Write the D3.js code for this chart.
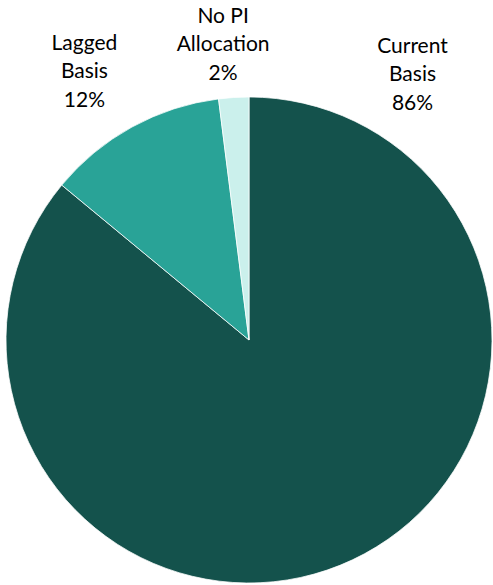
<!DOCTYPE html>
<html>
<head>
<meta charset="utf-8">
<script src="https://cdn.jsdelivr.net/npm/d3@7"></script>
<style>
  body { margin: 0; background: #fff; }
  text { font-family: Lato, "Open Sans", sans-serif; fill: #000; }
</style>
</head>
<body>
<div id="chart"></div>
<script>
// data
var categories = ['Current Basis', 'Lagged Basis', 'No PI Allocation'];
var values = [86, 12, 2];
var labelLines = [['Current', 'Basis'], ['Lagged', 'Basis'], ['No PI', 'Allocation']];
var colors = ['#14524c', '#29a397', '#cbf0ec'];

var width = 493, height = 585;
var cx = 249, cy = 340, radius = 243;

var svg = d3.select('#chart')
  .append('svg')
  .attr('width', width)
  .attr('height', height);

var g = svg.append('g')
  .attr('transform', 'translate(' + cx + ',' + cy + ')');

var pie = d3.pie().sort(null).value(function(d) { return d; });
var arcs = pie(values);

var arc = d3.arc().innerRadius(0).outerRadius(radius);

g.selectAll('path')
  .data(arcs)
  .enter()
  .append('path')
  .attr('d', arc)
  .attr('fill', function(d, i) { return colors[i]; })
  .attr('stroke', '#fff')
  .attr('stroke-width', 0.75);

// label placement (Excel "best fit" puts them above the pie)
var labelPos = [
  {angle: 31.6, r: 312},
  {angle: -31.5, r: 315},
  {angle: -5, r: 297}
];
var lineH = 28.5;

var labels = g.selectAll('text.lbl')
  .data(arcs)
  .enter()
  .append('text')
  .attr('class', 'lbl')
  .attr('text-anchor', 'middle')
  .style('font-size', '21px')
  .attr('transform', function(d, i) {
    var a = labelPos[i].angle * Math.PI / 180;
    var x = labelPos[i].r * Math.sin(a);
    var y = -labelPos[i].r * Math.cos(a);
    return 'translate(' + x + ',' + y + ')';
  });

labels.each(function(d, i) {
  var t = d3.select(this);
  var lines = labelLines[i].concat([values[i] + '%']);
  lines.forEach(function(s, k) {
    t.append('tspan')
      .attr('x', 0)
      .attr('y', (k - 1) * lineH + 7)
      .text(s);
  });
});
</script>
</body>
</html>
